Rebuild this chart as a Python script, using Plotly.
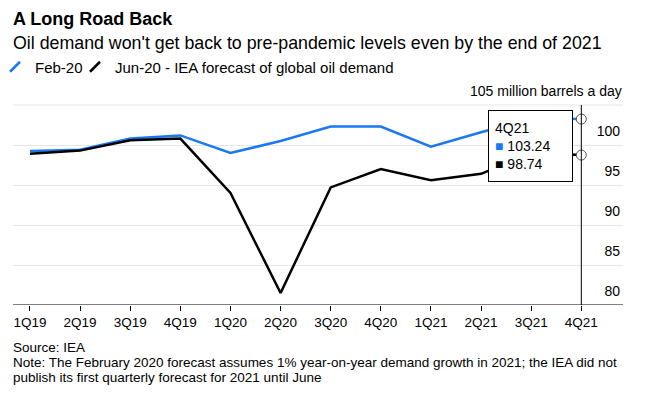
import plotly.graph_objects as go

categories = ["1Q19", "2Q19", "3Q19", "4Q19", "1Q20", "2Q20", "3Q20", "4Q20",
              "1Q21", "2Q21", "3Q21", "4Q21"]
feb20 = [99.25, 99.4, 100.8, 101.2, 99.0, 100.5, 102.3, 102.3, 99.8, 101.6, 103.3, 103.24]
jun20 = [98.9, 99.3, 100.6, 100.8, 94.0, 81.5, 94.7, 97.0, 95.6, 96.4, 99.0, 98.74]
y_ticks = [80, 85, 90, 95, 100, 105]
y_ticktext = ["80", "85", "90", "95", "100", "105 million barrels a day"]
series_names = ["Feb-20", "Jun-20 - IEA forecast of global oil demand"]
title = "A Long Road Back"
subtitle = "Oil demand won't get back to pre-pandemic levels even by the end of 2021"
footer_lines = [
    "Source: IEA",
    "Note: The February 2020 forecast assumes 1% year-on-year demand growth in 2021; the IEA did not",
    "publish its first quarterly forecast for 2021 until June",
]

BLUE = "#1a78f5"
BLACK = "#000000"
FONT = "Liberation Sans"

xi = list(range(len(categories)))
hi = len(categories) - 1

# plot area in pixels
L, R, T, B = 13, 623, 85, 305


def px_x(px):
    return (px - L) / (R - L)


def px_y(py):
    return (B - py) / (B - T)


fig = go.Figure()
# axis baseline and top gridline
fig.add_hline(y=y_ticks[0], line=dict(color="#7f7f7f", width=2), layer="below")
fig.add_hline(y=y_ticks[-1], line=dict(color="#e6e6e6", width=1), layer="below")

fig.add_trace(go.Scatter(x=xi, y=feb20, mode="lines", line=dict(color=BLUE, width=2.5),
                         showlegend=False, hoverinfo="skip"))
fig.add_trace(go.Scatter(x=xi, y=jun20, mode="lines", line=dict(color=BLACK, width=2.5),
                         showlegend=False, hoverinfo="skip"))
# legend entries with slash icons (one legend per entry for tight spacing)
for name, col, lg in zip(series_names, [BLUE, BLACK], ["legend", "legend2"]):
    fig.add_trace(go.Scatter(x=[None], y=[None], mode="markers", name=name, legend=lg,
                             marker=dict(symbol="line-ne", size=10,
                                         line=dict(color=col, width=2.5))))
# hover vertical line
fig.add_shape(type="line", xref="x", yref="y", x0=hi, x1=hi, y0=79.4, y1=y_ticks[-1],
              line=dict(color="#000", width=1), layer="above")
# hover markers
fig.add_trace(go.Scatter(x=[hi, hi], y=[feb20[hi], jun20[hi]], mode="markers",
                         marker=dict(size=10, color="white", line=dict(color="#555", width=1)),
                         showlegend=False, hoverinfo="skip"))

tip = (f"{categories[hi]}<br>"
       f"<span style='color:{BLUE}'>■</span> {feb20[hi]:.2f}<br>"
       f"■ {jun20[hi]:.2f}")
fig.add_annotation(x=px_x(488), xref="paper", xanchor="left",
                   y=px_y(110), yref="paper", yanchor="top",
                   text=tip, showarrow=False, align="left", valign="middle",
                   width=71, height=58,
                   font=dict(family=FONT, size=14, color="#000"),
                   bgcolor="white", bordercolor="#000", borderwidth=1, borderpad=6)

# top y label (unit) kept as text from the tick-label list
fig.add_annotation(x=1, xref="paper", xanchor="right", xshift=1,
                   y=y_ticks[-1], yref="y", yanchor="bottom", yshift=4,
                   text=y_ticktext[-1], showarrow=False,
                   font=dict(family=FONT, size=14, color="#000"))

fig.add_annotation(x=px_x(11), xref="paper", xanchor="left",
                   y=px_y(19), yref="paper", yanchor="middle",
                   text=f"<b>{title}</b>", showarrow=False,
                   font=dict(family=FONT, size=18, color="#000"))
fig.add_annotation(x=px_x(11), xref="paper", xanchor="left",
                   y=px_y(43), yref="paper", yanchor="middle",
                   text=subtitle, showarrow=False,
                   font=dict(family=FONT, size=17.8, color="#000"))
for i, line in enumerate(footer_lines):
    fig.add_annotation(x=px_x(11), xref="paper", xanchor="left",
                       y=px_y(347 + 15 * i), yref="paper", yanchor="middle",
                       text=line, showarrow=False, align="left",
                       font=dict(family=FONT, size=13.5, color="#000"))

legend_common = dict(orientation="h", xanchor="left", y=px_y(67), yanchor="middle",
                     font=dict(family=FONT, size=15), itemwidth=30,
                     bgcolor="rgba(0,0,0,0)")
fig.update_layout(
    width=652, height=402,
    margin=dict(l=L, r=652 - R, t=T, b=402 - B, autoexpand=False),
    paper_bgcolor="white", plot_bgcolor="white",
    font=dict(family=FONT, color="#000"),
    legend=dict(x=px_x(-5), **legend_common),
    legend2=dict(x=px_x(75), **legend_common),
    hovermode=False,
)
fig.update_xaxes(range=[-0.339, 11.832], tickvals=xi, ticktext=categories, automargin=False,
                 showgrid=False, zeroline=False, showline=False,
                 ticks="outside", ticklen=5, tickcolor="#000", tickwidth=1,
                 ticklabelstandoff=0,
                 tickfont=dict(family=FONT, size=13.5, color="#000"))
fig.update_yaxes(range=[80, 107.5], tickvals=y_ticks[:-1], ticktext=y_ticktext[:-1],
                 side="right", automargin=False, ticklabelposition="inside top",
                 ticklabelshift=-4, showgrid=True,
                 gridcolor="#e6e6e6", gridwidth=1, zeroline=False, showline=False, ticks="",
                 tickfont=dict(family=FONT, size=14, color="#000"))

fig.write_html("out.html", config={"displayModeBar": False},
               post_script="document.body.style.margin='0';")
